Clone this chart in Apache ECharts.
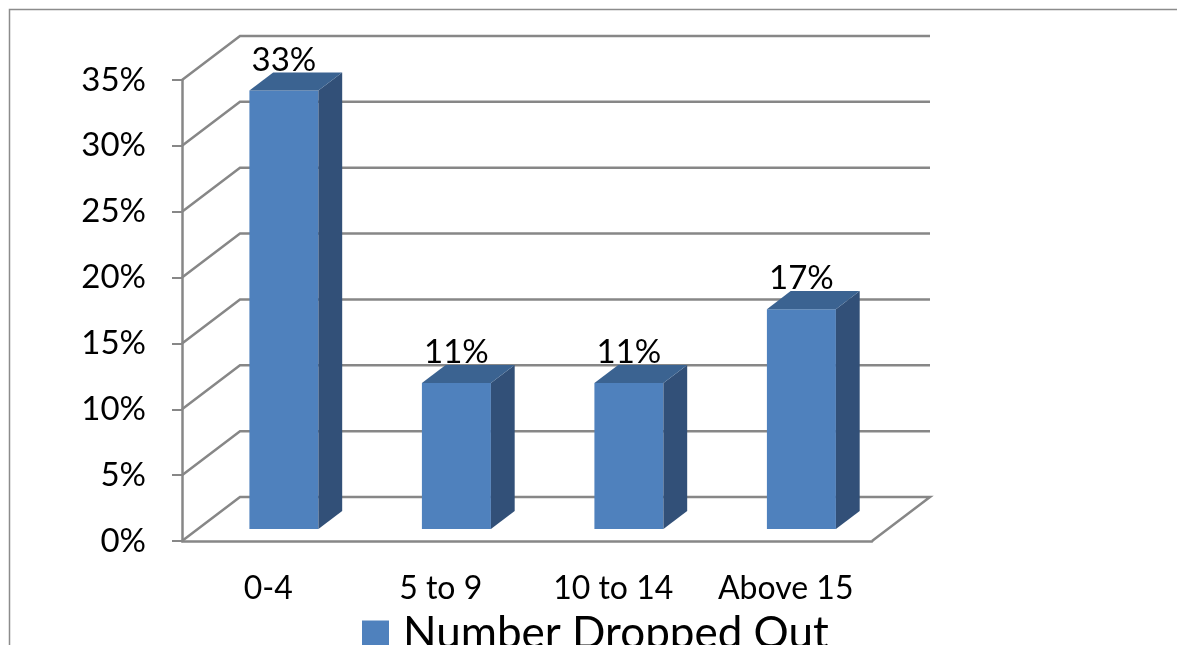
<!DOCTYPE html>
<html>
<head>
<meta charset="utf-8">
<script src="https://cdn.jsdelivr.net/npm/echarts@6/dist/echarts.min.js"></script>
<style>
  html, body { margin: 0; padding: 0; background: #fff; }
  #container { width: 1177px; height: 645px; }
</style>
</head>
<body>
<div id="container"></div>
<script>
var categories = ['0-4', '5 to 9', '10 to 14', 'Above 15'];
var dropped = [33.3, 11.1, 11.1, 16.7];
var barLabels = ['33%', '11%', '11%', '17%'];
var yTicks = [0, 5, 10, 15, 20, 25, 30, 35];

window.onload = function () {
    var dom = document.getElementById('container');
    var myChart = echarts.init(dom);
    var FONT = 'Lato';
    var GRAY = '#878787';
    // 3d depth of the back wall, pixels
    var DX = 58, DY = 44;

    var wallData = yTicks.map(function (v) { return [0, v]; });
    var barData = dropped.map(function (v, i) { return [i, v]; });

    function renderWall(params, api) {
        var v = api.value(1);
        var bw = api.size([1, 0])[0];
        var left = api.coord([0, v]);
        var right = api.coord([categories.length - 1, v]);
        var x0 = left[0] - bw / 2, x1 = right[0] + bw / 2, y = left[1];
        var pts = [[x0, y], [x0 + DX, y - DY], [x1 + DX, y - DY]];
        if (v === 0) pts.push([x1, y]);
        return {
            type: 'polyline',
            shape: { points: pts },
            style: { stroke: GRAY, lineWidth: 2.5, fill: null }
        };
    }

    function renderBar(params, api) {
        var i = api.value(0);
        var bw = api.size([1, 0])[0];
        var base = api.coord([i, 0]);
        var top = api.coord([i, api.value(1)]);
        var f0 = 0.27, f1 = 0.41;
        var ox = DX * f0, oy = DY * f0;
        var dx = DX * f1, dy = DY * f1;
        var w = bw * 0.4;
        var x0 = base[0] - w / 2 + ox, x1 = x0 + w;
        var yb = base[1] - oy, yt = top[1] - oy;
        return {
            type: 'group',
            children: [
                { type: 'rect', shape: { x: x0, y: yt, width: w, height: yb - yt },
                  style: { fill: '#4f81bd' } },
                { type: 'polygon', shape: { points: [[x1, yt], [x1 + dx, yt - dy], [x1 + dx, yb - dy], [x1, yb]] },
                  style: { fill: '#325078' } },
                { type: 'polygon', shape: { points: [[x0, yt], [x1, yt], [x1 + dx, yt - dy], [x0 + dx, yt - dy]] },
                  style: { fill: '#3b6391' } },
                { type: 'text', style: { text: barLabels[i], x: (x0 + x1) / 2, y: yt - dy + 4,
                  align: 'center', verticalAlign: 'bottom', fill: '#000',
                  font: '33px ' + FONT } }
            ]
        };
    }

    var option = {
        animation: false,
        graphic: [{
            type: 'rect', left: 7, top: 7, silent: true,
            shape: { width: 1300, height: 800 },
            style: { fill: null, stroke: '#8c8c8c', lineWidth: 1.5 }
        }],
        legend: {
            data: [{ name: 'Number Dropped Out', icon: 'rect' }],
            left: 362, top: 612, padding: 0,
            itemWidth: 27, itemHeight: 27,
            textStyle: { fontFamily: FONT, fontSize: 44, color: '#000', padding: [0, 0, 0, 9] }
        },
        grid: { left: 182, right: 305, top: 80, bottom: 104 },
        xAxis: {
            type: 'category',
            data: categories,
            axisLine: { lineStyle: { color: GRAY, width: 2.5 } },
            axisTick: { length: 10, lineStyle: { color: GRAY, width: 2 } },
            axisLabel: { interval: 0, hideOverlap: false, fontFamily: FONT, fontSize: 32,
                         color: '#000', margin: 32 },
            splitLine: { show: false }
        },
        yAxis: {
            type: 'value',
            min: 0, max: 35, interval: 5,
            axisLine: { show: true, lineStyle: { color: GRAY, width: 2.5 } },
            axisTick: { show: true, length: 10, lineStyle: { color: GRAY, width: 2 } },
            axisLabel: { formatter: '{value}%', fontFamily: FONT, fontSize: 33, color: '#000', margin: 36 },
            splitLine: { show: false }
        },
        series: [{
            type: 'custom',
            name: 'wall',
            silent: true,
            z: 1,
            renderItem: renderWall,
            data: wallData
        }, {
            type: 'custom',
            name: 'Number Dropped Out',
            z: 2,
            itemStyle: { color: '#4f81bd' },
            renderItem: renderBar,
            data: barData
        }]
    };
    myChart.setOption(option, true);
};
</script>
</body>
</html>
